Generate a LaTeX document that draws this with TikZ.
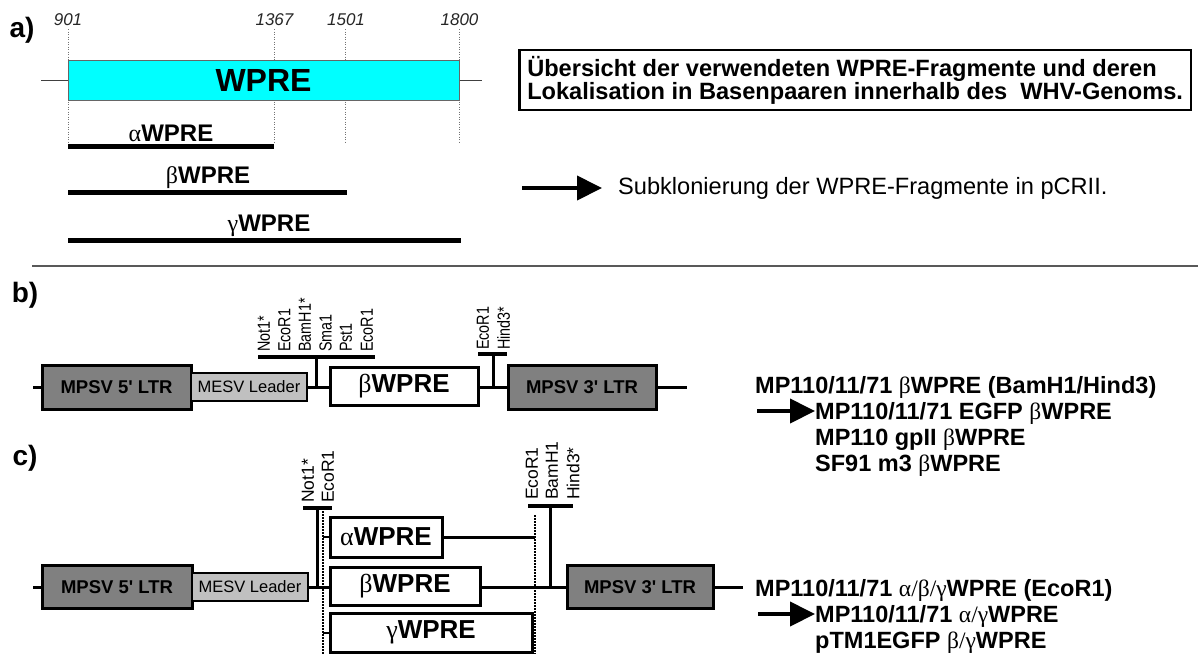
\documentclass[tikz,border=0pt]{standalone}
\usepackage{fontspec}
\setmainfont{Liberation Sans}
\newfontfamily\grkfont{Liberation Serif}
\newfontfamily\condfont[FakeStretch=0.82]{Liberation Sans}
\usetikzlibrary{arrows.meta}
\definecolor{wcyan}{RGB}{0,255,255}
\definecolor{ltrgray}{RGB}{128,128,128}
\definecolor{leadgray}{RGB}{192,192,192}
\newcommand\gA{{\grkfont\mdseries α}}
\newcommand\gB{{\grkfont\mdseries β}}
\newcommand\gG{{\grkfont\mdseries γ}}
\newcommand\fs[1]{\fontsize{#1}{#1}\selectfont}
\newcommand\sq{\textquotesingle}
\begin{document}
\begin{tikzpicture}[x=1pt,y=-1pt,
  panel/.style={font=\bfseries\fs{28}, inner sep=0},
  num/.style={font=\itshape\fs{17}, text=black!85, inner sep=0},
  guide/.style={draw=black!55, line width=0.8, dash pattern=on 1pt off 1.5pt},
  frag/.style={line width=5},
  fraglbl/.style={font=\bfseries\fs{24}, inner sep=0},
  big/.style={font=\bfseries\fs{23.5}, anchor=base west, inner sep=0},
  ltr/.style={draw, line width=3, fill=ltrgray, inner sep=0, font=\bfseries\fs{18.5}},
  lead/.style={draw, line width=2.5, fill=leadgray, inner sep=0, font=\fs{16.5}},
  wbox/.style={draw, line width=3, fill=white, inner sep=0, font=\bfseries\fs{26}},
  bb/.style={line width=3},
  site/.style={rotate=90, anchor=west, inner sep=0, font=\condfont\fs{17.5}},
  sitec/.style={rotate=90, anchor=west, inner sep=0, font=\fs{17.5}},
  sitebar/.style={line width=4},
  vdot/.style={line width=2, dash pattern=on 1.5pt off 1.5pt},
  bigarrow/.style={line width=4, -{Triangle[length=25pt,width=24pt]}}
]
\useasboundingbox (0,0) rectangle (1198,654);

% ---------------- a) ----------------
\node[panel] (pa) at (22,30) {a)};
\node[num] (n901) at (68,20) {901};
\node[num] (n1367) at (274.5,20) {1367};
\node[num] (n1501) at (346,20) {1501};
\node[num] (n1800) at (459.5,20) {1800};
\draw[guide] (68,29) -- (68,146);
\draw[guide] (274,29) -- (274,143);
\draw[guide] (345,29) -- (345,143);
\draw[guide] (459,29) -- (459,143);

\coordinate (wl) at (41,80);
\coordinate (wr) at (482,80);
\node[draw=black!60, line width=1, fill=wcyan, minimum width=391, minimum height=40,
      inner sep=0, font=\bfseries\fs{32}] (wpre) at (263.5,80) {WPRE};
\draw[line width=1, black!75] (wl) -- (wpre.west);
\draw[line width=1, black!75] (wpre.east) -- (wr);

\draw[frag] (68,146) -- (274,146);
\node[fraglbl] (fa) at (171,133) {\gA WPRE};
\draw[frag] (68,192) -- (347,192);
\node[fraglbl] (fb) at (208,178) {\gB WPRE};
\draw[frag] (68,240) -- (461,240);
\node[fraglbl] (fc) at (269,226) {\gG WPRE};

\node[draw, line width=2.5, anchor=west, minimum height=60, inner xsep=8, inner ysep=0,
      align=left, font=\bfseries\fontsize{23.6}{22}\selectfont] (info) at (518,80)
  {Übersicht der verwendeten WPRE-Fragmente und deren\\Lokalisation in Basenpaaren innerhalb des\ \ WHV-Genoms.};

\coordinate (arA) at (522,188);
\node[font=\fs{23.6}, anchor=west, inner sep=0] (subk) at (618,188) {Subklonierung der WPRE-Fragmente in pCRII.};
\draw[bigarrow] (arA) -- ([xshift=-16pt]subk.west);

\draw[line width=2, black!65] (32,266) -- (1198,266);

% ---------------- b) ----------------
\node[panel] (pb) at (25,295) {b)};
\coordinate (b0) at (33,387);
\coordinate (b9) at (687,387);
\node[ltr, minimum width=149, minimum height=44] (l5b) at (116.5,387) {MPSV 5\sq{} LTR};
\node[lead, minimum width=116, minimum height=28] (mb) at (249,387) {MESV Leader};
\node[wbox, minimum width=148, minimum height=38] (wb) at (404,386) {\gB WPRE};
\node[ltr, minimum width=148, minimum height=44] (l3b) at (582,387) {MPSV 3\sq{} LTR};
\draw[bb] (b0) -- (l5b.west);
\draw[bb] (mb.east) -- (wb.west |- mb.east);
\draw[bb] (wb.east |- l3b.west) -- (l3b.west);
\draw[bb] (l3b.east) -- (b9);

\coordinate (tb1) at (316,387);
\coordinate (tb1t) at (316,357);
\draw[bb] (tb1) -- (tb1t);
\coordinate (barb1l) at (258,357);
\coordinate (barb1r) at (375,357);
\draw[sitebar] (barb1l) -- (barb1r);
\node[site] (sb1) at (264,352) {Not1*};
\node[site] (sb2) at (284.5,352) {EcoR1};
\node[site] (sb3) at (305,352) {BamH1*};
\node[site] (sb4) at (325.5,352) {Sma1};
\node[site] (sb5) at (346,352) {Pst1};
\node[site] (sb6) at (367,352) {EcoR1};

\coordinate (tb2) at (493,387);
\coordinate (tb2t) at (493,354);
\draw[bb] (tb2) -- (tb2t);
\coordinate (barb2l) at (478,354);
\coordinate (barb2r) at (507,354);
\draw[sitebar] (barb2l) -- (barb2r);
\node[site] (sb7) at (483,350) {EcoR1};
\node[site] (sb8) at (503.5,350) {Hind3*};

\node[big] (tb1a) at (755,393) {MP110/11/71 \gB WPRE (BamH1/Hind3)};
\node[big] (tb2a) at (815,419) {MP110/11/71 EGFP \gB WPRE};
\node[big] (tb3a) at (815,445) {MP110 gpII \gB WPRE};
\node[big] (tb4a) at (815,471) {SF91 m3 \gB WPRE};
\coordinate (arB) at (757,411);
\draw[bigarrow] (arB) -- (arB -| tb2a.west);

% ---------------- c) ----------------
\node[panel] (pc) at (25,458) {c)};
\coordinate (c0) at (33,587);
\coordinate (c9) at (743,587);
\node[ltr, minimum width=150, minimum height=43] (l5c) at (117,587) {MPSV 5\sq{} LTR};
\node[lead, minimum width=116, minimum height=28] (mc) at (250,587) {MESV Leader};
\node[wbox, minimum width=112, minimum height=40] (wac) at (386,537) {\gA WPRE};
\node[wbox, minimum width=150, minimum height=38] (wbc) at (405,586) {\gB WPRE};
\node[wbox, minimum width=202, minimum height=39] (wgc) at (431,632.5) {\gG WPRE};
\node[ltr, minimum width=146, minimum height=43] (l3c) at (640,587) {MPSV 3\sq{} LTR};
\draw[bb] (c0) -- (l5c.west);
\draw[bb] (mc.east) -- (wbc.west |- mc.east);
\draw[bb] (wbc.east |- l3c.west) -- (l3c.west);
\draw[bb] (l3c.east) -- (c9);

\coordinate (dl1) at (323,508);
\coordinate (dl2) at (323,654);
\draw[vdot] (dl1) -- (dl2);
\coordinate (dr1) at (535,515);
\coordinate (dr2) at (535,654);
\draw[vdot] (dr1) -- (dr2);
\draw[bb] (wac.east) -- (wac.east -| dr1);
\draw[line width=2] (wac.west -| dl1) -- (wac.west);
\draw[line width=2] (wgc.west -| dl1) -- (wgc.west);

\coordinate (tc1) at (317,587);
\coordinate (tc1t) at (317,508);
\draw[bb] (tc1) -- (tc1t);
\coordinate (barc1l) at (303,508);
\coordinate (barc1r) at (332,508);
\draw[sitebar] (barc1l) -- (barc1r);
\node[sitec] (sc1) at (308,503) {Not1*};
\node[sitec] (sc2) at (328,503) {EcoR1};

\coordinate (tc2) at (550,587);
\coordinate (tc2t) at (550,506);
\draw[bb] (tc2) -- (tc2t);
\coordinate (barc2l) at (528,506);
\coordinate (barc2r) at (573,506);
\draw[sitebar] (barc2l) -- (barc2r);
\node[sitec] (sc3) at (532,500) {EcoR1};
\node[sitec] (sc4) at (552,500) {BamH1};
\node[sitec] (sc5) at (573,500) {Hind3*};

\node[big] (tc1a) at (755,596) {MP110/11/71 {\grkfont\mdseries α/β/γ}WPRE (EcoR1)};
\node[big] (tc2a) at (815,622) {MP110/11/71 {\grkfont\mdseries α/γ}WPRE};
\node[big] (tc3a) at (815,648) {pTM1EGFP {\grkfont\mdseries β/γ}WPRE};
\coordinate (arC) at (758,614);
\draw[bigarrow] (arC) -- (arC -| tc2a.west);
\end{tikzpicture}
\end{document}
